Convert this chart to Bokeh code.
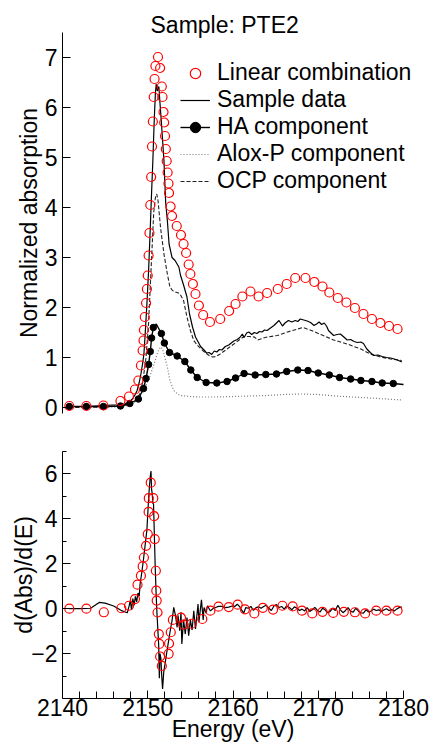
from bokeh.plotting import figure
from bokeh.layouts import column
from bokeh.models import Range1d, FixedTicker, Legend, LegendItem
from bokeh.embed import file_html
from bokeh.resources import INLINE

# ---------------- data: top panel (normalized absorption) ----------------
lc_energy = [2140.8, 2142.8, 2144.8, 2146.8, 2147.8, 2148.5, 2148.9, 2149.2, 2149.4, 2149.5,
             2149.55, 2149.65, 2149.8, 2149.9, 2150.0, 2150.1, 2150.2, 2150.3, 2150.4, 2150.5,
             2150.6, 2150.7, 2150.8, 2150.9, 2151.2, 2151.45, 2151.65, 2151.73, 2151.85, 2151.93,
             2152.03, 2152.12, 2152.22, 2152.33, 2152.43, 2152.5, 2152.68, 2152.85, 2153.4, 2153.9,
             2154.2, 2154.5, 2154.8, 2155.0, 2155.3, 2155.6, 2156.0, 2156.5, 2157.3, 2158.5,
             2159.55, 2160.3, 2161.1, 2162.05, 2163.0, 2164.0, 2165.25, 2166.3, 2167.3, 2168.5,
             2169.55, 2170.5, 2171.3, 2172.3, 2173.3, 2174.3, 2175.3, 2176.3, 2177.3, 2178.3, 2179.3]
lc_abs = [0.03, 0.03, 0.04, 0.13, 0.22, 0.36, 0.54, 0.84, 1.14, 1.34,
          1.55, 1.81, 2.09, 2.37, 2.64, 3.04, 3.49, 4.05, 4.61, 5.22,
          5.72, 6.21, 6.57, 6.83, 7.01, 6.79, 6.42, 6.21, 5.91, 5.70,
          5.43, 5.17, 4.93, 4.70, 4.48, 4.29, 4.02, 3.83, 3.63, 3.45,
          3.27, 3.09, 2.86, 2.67, 2.47, 2.27, 2.04, 1.85, 1.71, 1.77,
          1.93, 2.07, 2.22, 2.32, 2.22, 2.29, 2.37, 2.47, 2.59, 2.59,
          2.51, 2.42, 2.30, 2.19, 2.10, 1.99, 1.87, 1.77, 1.69, 1.63, 1.57]

sample_energy = [2140.8, 2142.8, 2143.8, 2144.8, 2145.8, 2146.8, 2147.3, 2147.8, 2148.2, 2148.5,
                 2148.75, 2149.0, 2149.2, 2149.4, 2149.55, 2149.7, 2149.9, 2150.1, 2150.3, 2150.45,
                 2150.6, 2150.75, 2150.9, 2151.0, 2151.12, 2151.3, 2151.45, 2151.6, 2151.9, 2152.1,
                 2152.3, 2152.5, 2152.85, 2153.2, 2153.65, 2153.85, 2154.2, 2154.6, 2154.9, 2155.25,
                 2155.6, 2156.2, 2156.6, 2156.9, 2157.2, 2157.5, 2157.8, 2158.1, 2158.4, 2158.7,
                 2159.1, 2159.5, 2159.8, 2160.1, 2160.5, 2160.8, 2161.1, 2161.3, 2161.6, 2161.85,
                 2162.2, 2162.5, 2162.8, 2163.1, 2163.4, 2163.7, 2164.0, 2164.4, 2164.8, 2165.1,
                 2165.4, 2165.8, 2166.1, 2166.5, 2166.9, 2167.3, 2167.6, 2167.9, 2168.3, 2168.7,
                 2169.1, 2169.5, 2169.8, 2170.1, 2170.4, 2170.7, 2171.0, 2171.2, 2171.5, 2171.8,
                 2172.2, 2172.6, 2173.0, 2173.4, 2173.8, 2174.2, 2174.6, 2175.0, 2175.3, 2175.7,
                 2176.1, 2176.5, 2177.0, 2177.5, 2178.0, 2178.5, 2178.9, 2179.3, 2179.8]
sample_abs = [0.02, 0.02, 0.03, 0.04, 0.05, 0.05, 0.07, 0.11, 0.17, 0.25,
              0.34, 0.50, 0.67, 0.88, 1.07, 1.47, 2.07, 2.74, 3.61, 4.30,
              4.94, 5.70, 6.30, 6.47, 6.33, 6.42, 6.05, 5.70, 4.94, 4.10,
              3.74, 3.27, 3.00, 2.94, 2.81, 2.64, 2.45, 2.21, 1.87, 1.61,
              1.41, 1.22, 1.15, 1.09, 1.10, 1.06, 1.13, 1.11, 1.16, 1.15,
              1.22, 1.25, 1.29, 1.33, 1.36, 1.40, 1.47, 1.40, 1.49, 1.51,
              1.46, 1.50, 1.48, 1.52, 1.51, 1.55, 1.54, 1.59, 1.64, 1.69,
              1.74, 1.63, 1.69, 1.74, 1.71, 1.74, 1.72, 1.77, 1.75, 1.73,
              1.70, 1.64, 1.67, 1.71, 1.66, 1.69, 1.62, 1.54, 1.49, 1.44,
              1.46, 1.47, 1.41, 1.35, 1.36, 1.32, 1.30, 1.31, 1.28, 1.17,
              1.10, 1.04, 1.05, 1.02, 1.00, 0.99, 0.97, 0.95, 0.91]

ha_energy = [2140.8, 2142.8, 2144.8, 2146.8, 2147.9, 2148.9, 2149.5, 2149.8, 2150.1, 2150.3,
             2150.45, 2150.65, 2151.0, 2151.6, 2151.95, 2152.55, 2153.45, 2154.35, 2155.05, 2155.8,
             2156.85, 2158.1, 2159.3, 2160.3, 2161.3, 2162.6, 2163.85, 2165.1, 2166.3, 2167.6,
             2168.8, 2170.0, 2171.3, 2172.5, 2173.8, 2175.0, 2176.3, 2177.5, 2178.8, 2180.0]
ha_abs = [0.02, 0.02, 0.02, 0.03, 0.08, 0.17, 0.38, 0.58, 0.86, 1.12,
          1.39, 1.60, 1.67, 1.48, 1.29, 1.10, 1.03, 0.92, 0.75, 0.60,
          0.50, 0.49, 0.52, 0.59, 0.68, 0.65, 0.66, 0.67, 0.72, 0.75,
          0.74, 0.69, 0.65, 0.60, 0.57, 0.54, 0.52, 0.49, 0.48, 0.46]
ha_marker_energy = [2140.8, 2142.8, 2144.8, 2146.8, 2147.9, 2148.9, 2149.5, 2149.8, 2150.1, 2150.3,
                    2150.45, 2150.65, 2151.6, 2151.95, 2152.55, 2153.45, 2154.35, 2155.05, 2155.8,
                    2156.85, 2158.1, 2159.3, 2160.3, 2161.3, 2162.6, 2163.85, 2165.1, 2166.3, 2167.6,
                    2168.8, 2170.0, 2171.3, 2172.5, 2173.8, 2175.0, 2176.3, 2177.5, 2178.8]
ha_marker_abs = [0.02, 0.02, 0.02, 0.03, 0.08, 0.17, 0.38, 0.58, 0.86, 1.12,
                 1.39, 1.60, 1.48, 1.29, 1.10, 1.03, 0.92, 0.75, 0.60,
                 0.50, 0.49, 0.52, 0.59, 0.68, 0.65, 0.66, 0.67, 0.72, 0.75,
                 0.74, 0.69, 0.65, 0.60, 0.57, 0.54, 0.52, 0.49, 0.48]

alox_energy = [2140.8, 2146.8, 2147.8, 2148.4, 2149.0, 2149.5, 2150.1, 2150.7, 2151.2, 2151.5,
               2151.7, 2151.9, 2152.3, 2152.6, 2153.05, 2153.5, 2153.85, 2155.0, 2156.0, 2158.0,
               2160.0, 2162.0, 2164.0, 2166.0, 2168.0, 2170.0, 2172.0, 2174.0, 2176.0, 2178.0, 2179.8]
alox_abs = [0.00, 0.01, 0.04, 0.10, 0.20, 0.34, 0.55, 0.85, 1.12, 1.21,
            1.18, 1.07, 0.81, 0.54, 0.34, 0.27, 0.24, 0.22, 0.21, 0.21,
            0.22, 0.23, 0.24, 0.26, 0.27, 0.26, 0.23, 0.21, 0.19, 0.17, 0.15]

ocp_energy = [2140.8, 2144.8, 2146.8, 2147.8, 2148.5, 2149.0, 2149.4, 2149.8, 2150.1, 2150.4,
              2150.7, 2150.9, 2151.05, 2151.2, 2151.5, 2151.9, 2152.3, 2152.6, 2152.9, 2153.25,
              2153.6, 2153.85, 2154.2, 2154.6, 2155.0, 2155.4, 2155.8, 2156.2, 2156.7, 2157.2,
              2157.6, 2158.0, 2158.5, 2159.3, 2160.1, 2160.8, 2161.3, 2161.9, 2162.5, 2162.9,
              2163.4, 2164.0, 2165.2, 2166.4, 2167.6, 2168.2, 2169.2, 2170.3, 2171.8, 2173.4,
              2175.0, 2176.1, 2177.3, 2178.5, 2179.8]
ocp_abs = [0.00, 0.01, 0.03, 0.06, 0.12, 0.25, 0.50, 1.00, 1.70, 2.80,
           3.90, 4.20, 4.27, 4.15, 3.60, 3.07, 2.67, 2.41, 2.34, 2.31,
           2.29, 2.25, 2.14, 1.81, 1.54, 1.34, 1.25, 1.18, 1.10, 1.04,
           1.01, 1.02, 1.07, 1.17, 1.27, 1.36, 1.42, 1.42, 1.41, 1.35,
           1.38, 1.41, 1.44, 1.51, 1.57, 1.60, 1.54, 1.46, 1.35, 1.27,
           1.17, 1.07, 1.01, 0.97, 0.94]

# ---------------- data: bottom panel (derivative) ----------------
deriv_energy = [2140.8, 2142.0, 2143.3, 2144.3, 2145.0, 2146.0, 2147.0, 2147.6, 2147.8, 2147.95,
                2148.1, 2148.25, 2148.4, 2148.55, 2148.7, 2148.85, 2149.0, 2149.1, 2149.3, 2149.5,
                2149.7, 2149.9, 2150.0, 2150.1, 2150.2, 2150.3, 2150.38, 2150.45, 2150.52, 2150.6,
                2150.68, 2150.78, 2150.88, 2150.98, 2151.08, 2151.18, 2151.28, 2151.36, 2151.44, 2151.54,
                2151.64, 2151.74, 2151.88, 2152.05, 2152.25, 2152.45, 2152.65, 2152.85, 2153.05, 2153.25,
                2153.45, 2153.55, 2153.75, 2153.9, 2154.0, 2154.2, 2154.4, 2154.6, 2154.8, 2155.0,
                2155.2, 2155.4, 2155.6, 2155.9, 2156.0, 2156.3, 2156.5, 2156.6, 2156.85, 2157.0,
                2157.35, 2157.7, 2157.95, 2158.3, 2158.7, 2159.1, 2159.5, 2159.9, 2160.2, 2160.5,
                2160.8, 2161.0, 2161.25, 2161.5, 2161.8, 2162.1, 2162.4, 2162.7, 2163.0, 2163.3,
                2163.6, 2163.9, 2164.2, 2164.5, 2164.8, 2165.1, 2165.4, 2165.7, 2166.0, 2166.3,
                2166.6, 2166.9, 2167.2, 2167.5, 2167.8, 2168.1, 2168.4, 2168.7, 2169.0, 2169.3,
                2169.6, 2169.9, 2170.2, 2170.5, 2170.8, 2171.1, 2171.4, 2171.7, 2172.0, 2172.3,
                2172.6, 2172.9, 2173.2, 2173.5, 2173.8, 2174.1, 2174.4, 2174.7, 2175.0, 2175.3,
                2175.6, 2175.9, 2176.2, 2176.5, 2176.8, 2177.1, 2177.4, 2177.7, 2178.0, 2178.3,
                2178.6, 2178.9, 2179.2, 2179.5, 2179.8]
deriv_value = [0.00, 0.00, 0.02, 0.28, 0.25, 0.12, -0.10, -0.18, 0.10, 0.36,
               -0.05, 0.45, 0.15, 0.55, 0.30, 0.70, 0.55, 1.10, 1.60, 2.20,
               2.85, 3.50, 4.20, 4.90, 5.45, 5.90, 6.13, 5.30, 5.15, 4.70,
               4.65, 3.20, 1.80, 0.70, -0.20, -0.90, -1.60, -3.10, -2.00, -2.20,
               -3.00, -3.57, -2.80, -2.40, -1.90, -1.42, -0.95, -0.53, 0.06, -0.30,
               -0.83, -0.30, -0.98, -0.16, -1.57, -0.50, -1.13, -0.40, -1.20, -0.50,
               -0.95, -0.09, -0.90, 0.21, -0.60, 0.39, -0.50, 0.05, -0.20, 0.13,
               -0.10, 0.02, 0.05, 0.10, 0.10, 0.05, 0.07, 0.12, 0.10, 0.20,
               0.08, -0.05, -0.20, 0.05, 0.02, 0.10, -0.08, 0.05, 0.08, 0.02,
               0.10, 0.15, 0.02, -0.08, 0.12, 0.18, 0.05, 0.10, -0.02, 0.12,
               0.05, -0.05, 0.08, 0.02, -0.08, -0.02, -0.10, 0.05, -0.12, -0.05,
               0.06, -0.08, -0.15, 0.02, -0.05, -0.18, -0.12, 0.02, -0.08, 0.15,
               -0.05, -0.18, -0.08, 0.05, -0.12, -0.15, 0.02, -0.10, -0.18, -0.20,
               -0.05, -0.15, -0.10, -0.02, -0.08, -0.05, -0.12, -0.06, 0.00, -0.08,
               -0.04, -0.10, -0.02, 0.05, 0.08]

lc_deriv_energy = [2140.8, 2142.8, 2144.85, 2146.9, 2147.8, 2148.5, 2148.8, 2149.2, 2149.4, 2149.55,
                   2149.8, 2150.0, 2150.1, 2150.12, 2150.35, 2150.65, 2150.75, 2150.82, 2150.95, 2151.0,
                   2151.05, 2151.15, 2151.3, 2151.35, 2151.45, 2151.65, 2152.45, 2152.5, 2152.7, 2152.95,
                   2153.9, 2154.2, 2155.15, 2156.4, 2157.35, 2158.3, 2159.5, 2160.55, 2161.4, 2162.5,
                   2163.5, 2164.7, 2165.8, 2167.0, 2168.1, 2169.3, 2170.5, 2171.75, 2173.0, 2174.3,
                   2175.5, 2176.8, 2178.0, 2179.3]
lc_deriv_value = [0.00, 0.00, -0.16, 0.02, 0.13, 0.43, 1.07, 1.47, 1.88, 2.28,
                  2.80, 3.32, 4.31, 4.92, 5.61, 4.92, 4.12, 3.10, 1.69, 0.80,
                  0.36, -0.17, -1.13, -1.57, -2.13, -2.55, -2.01, -1.55, -1.05, -0.50,
                  -0.40, -0.71, -0.67, -0.46, -0.09, 0.09, 0.07, 0.18, -0.03, -0.21,
                  0.04, -0.04, 0.13, 0.10, -0.09, -0.21, -0.14, -0.19, -0.14, -0.16,
                  -0.21, -0.09, -0.09, -0.09]

# ---------------- axes ticks / labels ----------------
energy_ticks = [2140, 2150, 2160, 2170, 2180]
energy_minor_ticks = [2142, 2144, 2146, 2148, 2152, 2154, 2156, 2158, 2162, 2164, 2166, 2168,
                      2172, 2174, 2176, 2178]
abs_ticks = [0, 1, 2, 3, 4, 5, 6, 7]
deriv_ticks = [-2, 0, 2, 4, 6]
deriv_minor_ticks = [-3, -1, 1, 3, 5, 7]

FONT = "Liberation Sans"
FS = "23px"

FIG_W = 430
LEFT = 62
RIGHT = 27
# top panel has no x axis: its frame runs to the canvas edge so the legend is not clipped
PX_PER_EV = (FIG_W - LEFT - RIGHT) / 40.0
TOP_X_END = 2140 + (FIG_W - LEFT) / PX_PER_EV


def style_axis(ax):
    ax.axis_line_color = "black"
    ax.axis_line_width = 1
    ax.major_tick_line_color = "black"
    ax.minor_tick_line_color = "black"
    ax.major_tick_out = 0
    ax.minor_tick_out = 0
    ax.major_label_text_font = FONT
    ax.major_label_text_font_size = FS
    ax.major_label_text_color = "black"
    ax.axis_label_text_font = FONT
    ax.axis_label_text_font_size = FS
    ax.axis_label_text_font_style = "normal"
    ax.axis_label_text_color = "black"


# ---------------- top figure ----------------
p1 = figure(width=FIG_W, height=421, output_backend="svg", toolbar_location=None,
            x_range=Range1d(2140, TOP_X_END), y_range=Range1d(-0.12, 7.5),
            x_axis_location=None, min_border_left=LEFT, min_border_right=0,
            min_border_top=32, min_border_bottom=8,
            title="Sample: PTE2")
p1.frame_align = False
p1.title.align = "left"
p1.title.offset = 88
p1.title.text_font = FONT
p1.title.text_font_size = FS
p1.title.text_font_style = "normal"
p1.title.text_color = "black"
p1.title.standoff = -10
p1.grid.visible = False
p1.outline_line_color = None
p1.background_fill_color = None

yax = p1.yaxis[0]
style_axis(yax)
yax.ticker = FixedTicker(ticks=abs_ticks)
yax.major_tick_in = 8
yax.minor_tick_in = 0
yax.axis_label = "Normalized absorption"
yax.axis_label_standoff = 0

r_alox = p1.line(alox_energy, alox_abs, line_color="#777777", line_width=1.2, line_dash="1 2")
r_ocp = p1.line(ocp_energy, ocp_abs, line_color="#222222", line_width=1.1, line_dash="4 2")
r_sample = p1.line(sample_energy, sample_abs, line_color="black", line_width=1.2)
r_ha_line = p1.line(ha_energy, ha_abs, line_color="black", line_width=1.4)
r_ha_pts = p1.scatter(ha_marker_energy, ha_marker_abs, marker="circle", size=6.5,
                      fill_color="black", line_color="black")
r_lc = p1.scatter(lc_energy, lc_abs, marker="circle", size=9, fill_color=None,
                  line_color="#ff0000", line_width=1.2)

legend = Legend(items=[
    LegendItem(label="Linear combination", renderers=[r_lc]),
    LegendItem(label="Sample data", renderers=[r_sample]),
    LegendItem(label="HA component", renderers=[r_ha_line, r_ha_pts]),
    LegendItem(label="Alox-P component", renderers=[r_alox]),
    LegendItem(label="OCP component", renderers=[r_ocp]),
], location=(118, 219))
legend.label_text_font = FONT
legend.label_text_font_size = FS
legend.label_text_color = "black"
legend.glyph_width = 30
legend.glyph_height = 26
legend.label_height = 26
legend.label_standoff = 7
legend.spacing = -1
legend.padding = 0
legend.margin = 0
legend.border_line_color = None
legend.background_fill_alpha = 0
p1.add_layout(legend)

# ---------------- bottom figure ----------------
p2 = figure(width=FIG_W, height=325, output_backend="svg", toolbar_location=None,
            x_range=Range1d(2140, 2180), y_range=Range1d(-4, 7),
            min_border_left=LEFT, min_border_right=RIGHT,
            min_border_top=30, min_border_bottom=48)
p2.frame_align = False
p2.grid.visible = False
p2.outline_line_color = None
p2.background_fill_color = None

xax = p2.xaxis[0]
style_axis(xax)
xax.ticker = FixedTicker(ticks=energy_ticks, minor_ticks=energy_minor_ticks)
xax.major_tick_in = 8
xax.minor_tick_in = 7
xax.major_label_standoff = 0
xax.axis_label = "Energy (eV)"
xax.axis_label_standoff = -3

yax2 = p2.yaxis[0]
style_axis(yax2)
yax2.ticker = FixedTicker(ticks=deriv_ticks, minor_ticks=deriv_minor_ticks)
yax2.major_tick_in = 8
yax2.minor_tick_in = 4
yax2.axis_label = "d(Abs)/d(E)"
yax2.axis_label_standoff = -9

p2.line(deriv_energy, deriv_value, line_color="black", line_width=1.2)
p2.scatter(lc_deriv_energy, lc_deriv_value, marker="circle", size=9, fill_color=None,
           line_color="#ff0000", line_width=1.2)

layout = column(p1, p2, spacing=0)
open("out.html", "w").write(file_html(layout, INLINE))
